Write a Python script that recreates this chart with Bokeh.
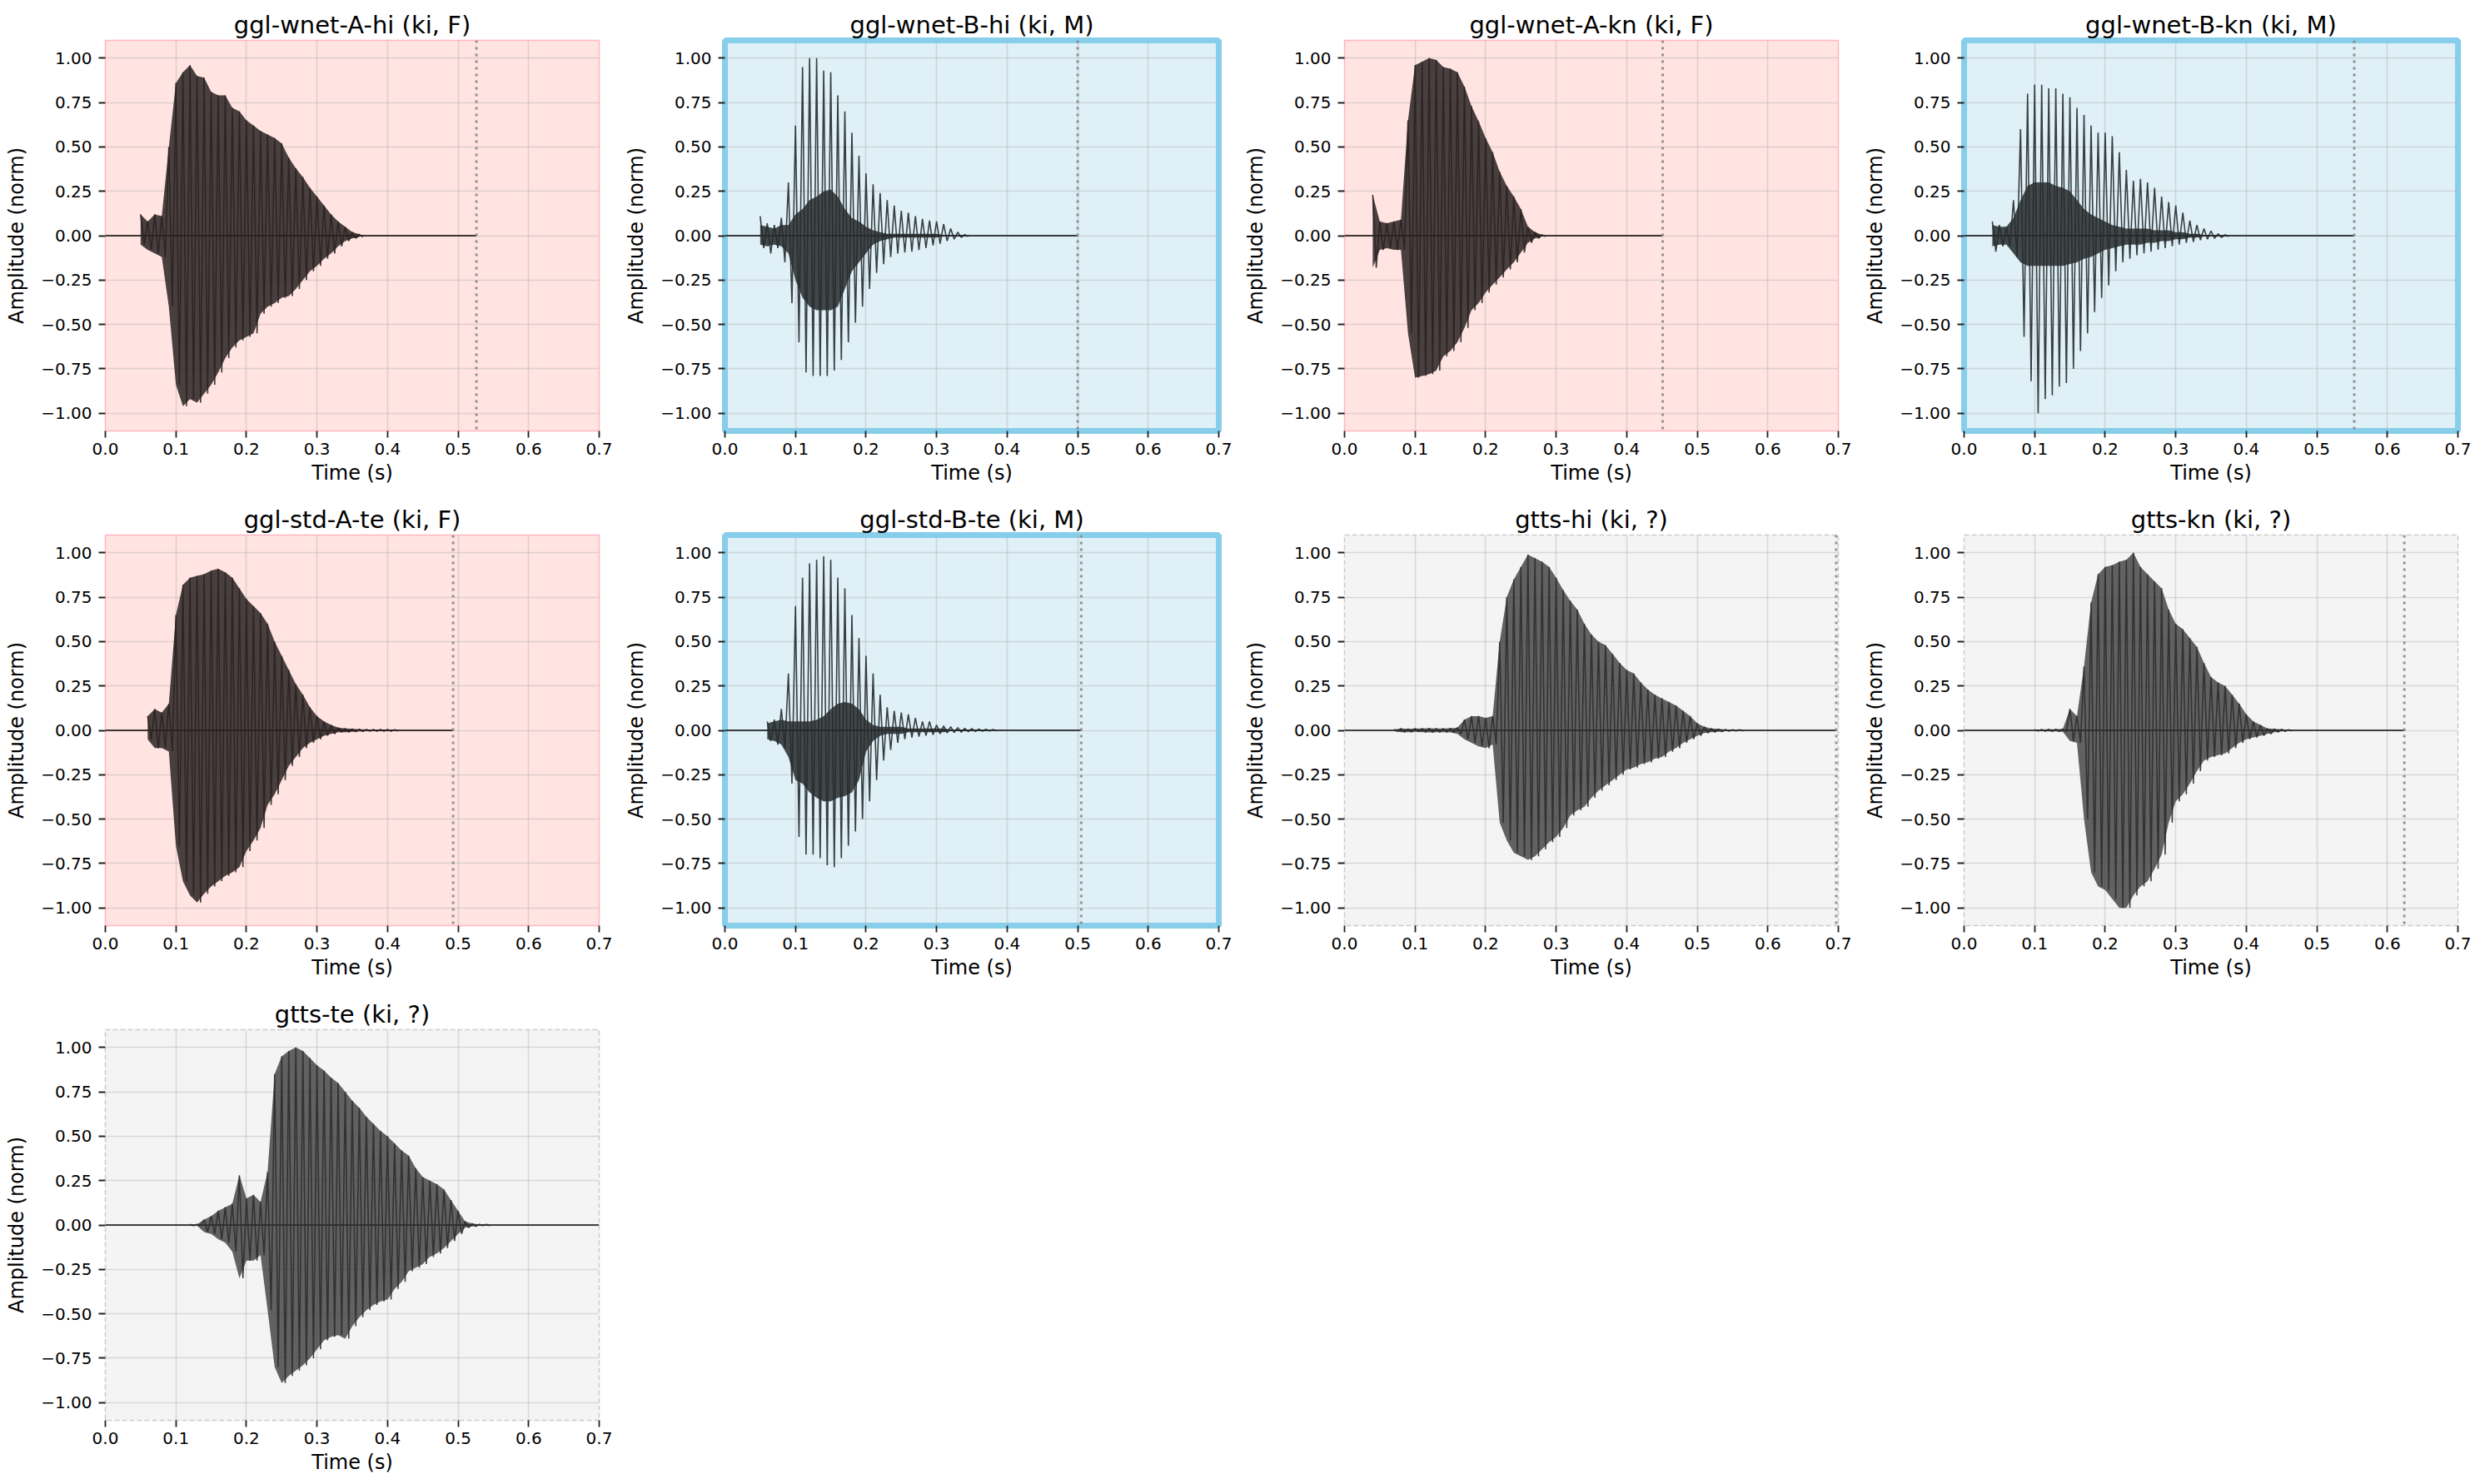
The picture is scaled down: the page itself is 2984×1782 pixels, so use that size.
import numpy as np
from bokeh.plotting import figure
from bokeh.models import Span
from bokeh.layouts import column, row
from bokeh.embed import file_html
from bokeh.resources import INLINE

# ---------------- data ----------------
STEP = 0.01  # envelope sampling interval (s)

titles = ["ggl-wnet-A-hi (ki, F)", "ggl-wnet-B-hi (ki, M)", "ggl-wnet-A-kn (ki, F)",
          "ggl-wnet-B-kn (ki, M)", "ggl-std-A-te (ki, F)", "ggl-std-B-te (ki, M)",
          "gtts-hi (ki, ?)", "gtts-kn (ki, ?)", "gtts-te (ki, ?)"]
genders = ["F", "M", "F", "M", "F", "M", "?", "?", "?"]
durations = [0.526, 0.500, 0.451, 0.553, 0.493, 0.505, 0.697, 0.624, 0.720]
onsets = [0.05, 0.05, 0.04, 0.04, 0.06, 0.06, 0.07, 0.10, 0.12]

x_ticks = [0.0, 0.1, 0.2, 0.3, 0.4, 0.5, 0.6, 0.7]
y_ticks = [-1.0, -0.75, -0.5, -0.25, 0.0, 0.25, 0.5, 0.75, 1.0]

hi_1 = [0.12, 0.08, 0.12, 0.11, 0.50, 0.86, 0.92, 0.96, 0.90, 0.89, 0.81, 0.79, 0.79, 0.72, 0.70, 0.65,
        0.62, 0.59, 0.57, 0.55, 0.52, 0.44, 0.38, 0.33, 0.27, 0.22, 0.17, 0.12, 0.08, 0.05, 0.02, 0.008]
lo_1 = [-0.05, -0.08, -0.10, -0.12, -0.40, -0.84, -0.96, -0.92, -0.94, -0.89, -0.84, -0.77, -0.69, -0.63,
        -0.59, -0.57, -0.55, -0.44, -0.40, -0.38, -0.35, -0.34, -0.30, -0.25, -0.20, -0.17, -0.13, -0.10,
        -0.06, -0.03, -0.015, -0.008]

hi_2 = [0.11, 0.07, 0.06, 0.10, 0.30, 0.62, 0.95, 1.0, 1.0, 0.93, 0.92, 0.79, 0.70, 0.58, 0.45, 0.35,
        0.29, 0.24, 0.20, 0.17, 0.14, 0.13, 0.11, 0.095, 0.085, 0.08, 0.065, 0.04, 0.02, 0.006]
lo_2 = [-0.07, -0.10, -0.07, -0.15, -0.38, -0.60, -0.77, -0.79, -0.79, -0.79, -0.76, -0.70, -0.60, -0.49,
        -0.40, -0.30, -0.21, -0.16, -0.12, -0.10, -0.095, -0.09, -0.08, -0.07, -0.055, -0.045, -0.03,
        -0.02, -0.01, -0.005]
core_hi_2 = [0.06, 0.05, 0.04, 0.06, 0.06, 0.12, 0.15, 0.20, 0.22, 0.25, 0.26, 0.22, 0.15, 0.10, 0.08,
             0.05, 0.03, 0.02, 0.01, 0.01, 0.01, 0.01, 0.01, 0.01, 0.01, 0.01, 0.005, 0.005, 0.005, 0.003]
core_lo_2 = [-0.05, -0.06, -0.05, -0.06, -0.10, -0.25, -0.35, -0.40, -0.42, -0.42, -0.42, -0.40, -0.30,
             -0.20, -0.15, -0.10, -0.05, -0.03, -0.02, -0.01, -0.01, -0.01, -0.01, -0.01, -0.01, -0.01,
             -0.005, -0.005, -0.005, -0.003]

hi_3 = [0.23, 0.08, 0.07, 0.08, 0.09, 0.65, 0.96, 0.98, 1.0, 0.99, 0.95, 0.94, 0.92, 0.84, 0.73, 0.645,
        0.55, 0.47, 0.36, 0.28, 0.22, 0.15, 0.05, 0.02, 0.005]
lo_3 = [-0.18, -0.08, -0.07, -0.08, -0.08, -0.55, -0.80, -0.79, -0.78, -0.76, -0.68, -0.65, -0.60, -0.52,
        -0.42, -0.38, -0.32, -0.275, -0.235, -0.19, -0.15, -0.095, -0.04, -0.015, -0.005]

hi_4 = [0.08, 0.06, 0.05, 0.20, 0.60, 0.80, 0.85, 0.85, 0.83, 0.83, 0.80, 0.78, 0.72, 0.68, 0.62, 0.58,
        0.58, 0.56, 0.47, 0.37, 0.31, 0.32, 0.30, 0.27, 0.22, 0.19, 0.17, 0.13, 0.085, 0.06, 0.04, 0.027,
        0.01, 0.005]
lo_4 = [-0.09, -0.06, -0.06, -0.12, -0.57, -0.82, -1.0, -0.92, -0.90, -0.85, -0.83, -0.75, -0.65, -0.55,
        -0.43, -0.35, -0.28, -0.20, -0.15, -0.13, -0.11, -0.10, -0.09, -0.08, -0.07, -0.06, -0.05, -0.04,
        -0.035, -0.025, -0.02, -0.015, -0.01, -0.005]
core_hi_4 = [0.06, 0.05, 0.05, 0.10, 0.20, 0.28, 0.30, 0.30, 0.30, 0.28, 0.27, 0.25, 0.20, 0.15, 0.12,
             0.10, 0.08, 0.06, 0.05, 0.04, 0.04, 0.04, 0.04, 0.03, 0.03, 0.03, 0.02, 0.02, 0.01, 0.01,
             0.005, 0.005, 0.003, 0.002]
core_lo_4 = [-0.06, -0.05, -0.05, -0.10, -0.15, -0.17, -0.17, -0.17, -0.17, -0.17, -0.17, -0.16, -0.15,
             -0.13, -0.12, -0.10, -0.08, -0.07, -0.06, -0.05, -0.05, -0.05, -0.04, -0.04, -0.03, -0.03,
             -0.02, -0.02, -0.01, -0.01, -0.005, -0.005, -0.003, -0.002]

hi_5 = [0.08, 0.12, 0.10, 0.15, 0.65, 0.82, 0.86, 0.87, 0.88, 0.90, 0.91, 0.89, 0.86, 0.80, 0.74, 0.70,
        0.66, 0.60, 0.50, 0.42, 0.34, 0.26, 0.20, 0.13, 0.08, 0.05, 0.03, 0.015, 0.01, 0.008, 0.006,
        0.005, 0.005, 0.005, 0.005, 0.003]
lo_5 = [-0.05, -0.10, -0.10, -0.12, -0.65, -0.85, -0.93, -0.97, -0.92, -0.88, -0.85, -0.82, -0.80, -0.77,
        -0.68, -0.62, -0.55, -0.42, -0.36, -0.28, -0.20, -0.15, -0.10, -0.07, -0.05, -0.03, -0.02, -0.01,
        -0.01, -0.008, -0.006, -0.005, -0.005, -0.005, -0.005, -0.003]

hi_6 = [0.05, 0.06, 0.12, 0.32, 0.70, 0.86, 0.94, 0.96, 0.98, 0.96, 0.86, 0.80, 0.65, 0.52, 0.42, 0.32,
        0.20, 0.13, 0.11, 0.10, 0.09, 0.07, 0.05, 0.05, 0.03, 0.025, 0.02, 0.015, 0.012, 0.01, 0.008,
        0.006, 0.005]
lo_6 = [-0.06, -0.08, -0.10, -0.30, -0.60, -0.70, -0.70, -0.72, -0.76, -0.77, -0.72, -0.65, -0.57, -0.50,
        -0.40, -0.28, -0.17, -0.11, -0.07, -0.05, -0.04, -0.035, -0.03, -0.025, -0.02, -0.015, -0.012,
        -0.01, -0.008, -0.006, -0.005, -0.004, -0.003]
core_hi_6 = [0.04, 0.05, 0.06, 0.05, 0.05, 0.05, 0.05, 0.06, 0.08, 0.12, 0.15, 0.16, 0.15, 0.12, 0.06,
             0.03, 0.02, 0.02, 0.02, 0.02, 0.01, 0.01, 0.01, 0.01, 0.01, 0.01, 0.005, 0.005, 0.005,
             0.005, 0.003, 0.003, 0.002]
core_lo_6 = [-0.05, -0.06, -0.08, -0.15, -0.28, -0.30, -0.35, -0.38, -0.40, -0.40, -0.38, -0.37, -0.35,
             -0.28, -0.12, -0.06, -0.03, -0.02, -0.02, -0.02, -0.01, -0.01, -0.01, -0.01, -0.01, -0.01,
             -0.005, -0.005, -0.005, -0.005, -0.003, -0.003, -0.002]

hi_7 = [0.005, 0.01, 0.008, 0.01, 0.01, 0.012, 0.01, 0.01, 0.012, 0.015, 0.06, 0.08, 0.08, 0.07, 0.08,
        0.50, 0.75, 0.85, 0.92, 0.99, 0.97, 0.95, 0.92, 0.86, 0.79, 0.73, 0.68, 0.60, 0.54, 0.50, 0.48,
        0.43, 0.38, 0.34, 0.32, 0.27, 0.23, 0.20, 0.18, 0.16, 0.14, 0.11, 0.08, 0.04, 0.02, 0.01, 0.008,
        0.005, 0.004, 0.003]
lo_7 = [-0.005, -0.01, -0.01, -0.008, -0.01, -0.012, -0.01, -0.01, -0.012, -0.02, -0.05, -0.07, -0.09,
        -0.10, -0.08, -0.52, -0.62, -0.69, -0.71, -0.73, -0.71, -0.67, -0.63, -0.60, -0.55, -0.48, -0.45,
        -0.43, -0.38, -0.34, -0.31, -0.28, -0.25, -0.22, -0.21, -0.19, -0.18, -0.16, -0.15, -0.12, -0.10,
        -0.07, -0.05, -0.03, -0.015, -0.01, -0.008, -0.005, -0.004, -0.003]

hi_8 = [0.004, 0.005, 0.006, 0.006, 0.008, 0.12, 0.08, 0.36, 0.72, 0.88, 0.92, 0.93, 0.95, 0.96, 1.0,
        0.92, 0.88, 0.84, 0.80, 0.68, 0.60, 0.57, 0.52, 0.47, 0.38, 0.30, 0.27, 0.25, 0.20, 0.15, 0.09,
        0.05, 0.03, 0.01, 0.008, 0.006, 0.004]
lo_8 = [-0.004, -0.005, -0.006, -0.006, -0.008, -0.06, -0.07, -0.50, -0.80, -0.88, -0.90, -0.95, -1.0,
        -1.0, -0.93, -0.88, -0.85, -0.78, -0.70, -0.52, -0.40, -0.36, -0.30, -0.23, -0.17, -0.15, -0.14,
        -0.13, -0.10, -0.07, -0.05, -0.04, -0.03, -0.02, -0.01, -0.006, -0.004]

hi_9 = [0.003, 0.004, 0.03, 0.05, 0.08, 0.10, 0.12, 0.28, 0.15, 0.17, 0.13, 0.30, 0.85, 0.95, 0.98, 1.0,
        0.98, 0.94, 0.90, 0.87, 0.83, 0.80, 0.75, 0.70, 0.66, 0.61, 0.57, 0.53, 0.50, 0.46, 0.42, 0.39,
        0.32, 0.27, 0.25, 0.23, 0.20, 0.14, 0.08, 0.02, 0.008, 0.004, 0.003]
lo_9 = [-0.003, -0.004, -0.04, -0.05, -0.08, -0.10, -0.15, -0.30, -0.20, -0.20, -0.17, -0.48, -0.80,
        -0.89, -0.85, -0.82, -0.79, -0.75, -0.70, -0.65, -0.63, -0.62, -0.64, -0.57, -0.52, -0.48, -0.45,
        -0.43, -0.42, -0.36, -0.32, -0.26, -0.24, -0.22, -0.18, -0.16, -0.13, -0.09, -0.05, -0.015,
        -0.008, -0.004, -0.003]

uppers = [hi_1, hi_2, hi_3, hi_4, hi_5, hi_6, hi_7, hi_8, hi_9]
lowers = [lo_1, lo_2, lo_3, lo_4, lo_5, lo_6, lo_7, lo_8, lo_9]
core_uppers = [None, core_hi_2, None, core_hi_4, None, core_hi_6, None, None, None]
core_lowers = [None, core_lo_2, None, core_lo_4, None, core_lo_6, None, None, None]

# ---------------- styles ----------------
STYLE = {
    "F": dict(bg="#ffe4e1", border="#ffb6c1", bw=1.5, dash="solid", wave="#2a2222", env_alpha=0.85),
    "M": dict(bg="#dff0f7", border="#87ceeb", bw=7, dash="solid", wave="#262a2c", env_alpha=0.0),
    "?": dict(bg="#f4f4f4", border="#cccccc", bw=1.5, dash="6 3", wave="#2e2e2e", env_alpha=0.74),
}
FONT = "DejaVu Sans"
FRAME_W, FRAME_H = 593, 469


def make_fig(i, col, last_row):
    st = STYLE[genders[i]]
    p = figure(frame_width=FRAME_W, frame_height=FRAME_H, x_range=(0, 0.7), y_range=(-1.1, 1.1),
               output_backend="svg", toolbar_location=None, title=titles[i],
               min_border_left=126, min_border_right=(27 if col == 3 else 25),
               min_border_top=48, min_border_bottom=(70 if last_row else 77))
    p.background_fill_color = st["bg"]
    p.border_fill_color = "white"
    p.outline_line_color = st["border"]
    p.outline_line_width = st["bw"]
    p.outline_line_dash = st["dash"]

    p.title.text_font = FONT
    p.title.text_font_size = "29px"
    p.title.text_font_style = "normal"
    p.title.text_color = "#000000"
    p.title.align = "center"
    p.title.standoff = 4

    p.xaxis.ticker = x_ticks
    p.yaxis.ticker = y_ticks
    p.xaxis.major_label_overrides = {v: f"{v:.1f}" for v in x_ticks}
    p.yaxis.major_label_overrides = {v: f"{v:.2f}".replace("-", "\u2212") for v in y_ticks}
    p.xaxis.axis_label = "Time (s)"
    p.yaxis.axis_label = "Amplitude (norm)"
    for ax in (p.xaxis, p.yaxis):
        ax.axis_line_color = None
        ax.major_tick_line_color = "#222222"
        ax.major_tick_line_width = 1.8
        ax.major_tick_out = 8
        ax.major_tick_in = 0
        ax.minor_tick_line_color = None
        ax.major_label_text_font = FONT
        ax.major_label_text_font_size = "20px"
        ax.major_label_text_color = "#000000"
        ax.axis_label_text_font = FONT
        ax.axis_label_text_font_size = "24px"
        ax.axis_label_text_font_style = "normal"
        ax.axis_label_text_color = "#000000"
    p.xaxis.major_label_standoff = 6
    p.xaxis.axis_label_standoff = 5
    p.yaxis.major_label_standoff = 8
    p.yaxis.axis_label_standoff = 12

    p.grid.grid_line_color = "#b0b0b0"
    p.grid.grid_line_alpha = 0.4
    p.grid.grid_line_width = 1.6

    hi = np.array(uppers[i])
    lo = np.array(lowers[i])
    t = onsets[i] + STEP * np.arange(len(hi))
    wave = st["wave"]

    # flat baseline of the whole clip
    p.line([0.0, min(durations[i], 0.7)], [0.0, 0.0], line_color=wave, line_width=1.8, line_alpha=0.9)
    # envelope
    if st["env_alpha"] > 0:
        p.varea(x=t, y1=lo, y2=hi, fill_color=wave, fill_alpha=st["env_alpha"])
    # dense core (male voices)
    if core_uppers[i] is not None:
        p.varea(x=t, y1=np.array(core_lowers[i]), y2=np.array(core_uppers[i]),
                fill_color=wave, fill_alpha=0.85)
    # oscillation trace through the envelope extremes
    xs = np.ravel(np.column_stack([t, t + STEP / 2]))
    ys = np.ravel(np.column_stack([hi, lo]))
    p.line(xs, ys, line_color=wave, line_width=1.6, line_alpha=0.9)

    p.add_layout(Span(location=durations[i], dimension="height", line_color="#888888",
                      line_dash="3 5", line_width=3, line_alpha=0.9))
    return p


figs = []
for i in range(9):
    col = i % 4
    figs.append(make_fig(i, col, last_row=(i >= 8)))

layout = column(row(*figs[0:4]), row(*figs[4:8]), row(figs[8]))

open("out.html", "w").write(file_html(layout, INLINE))
